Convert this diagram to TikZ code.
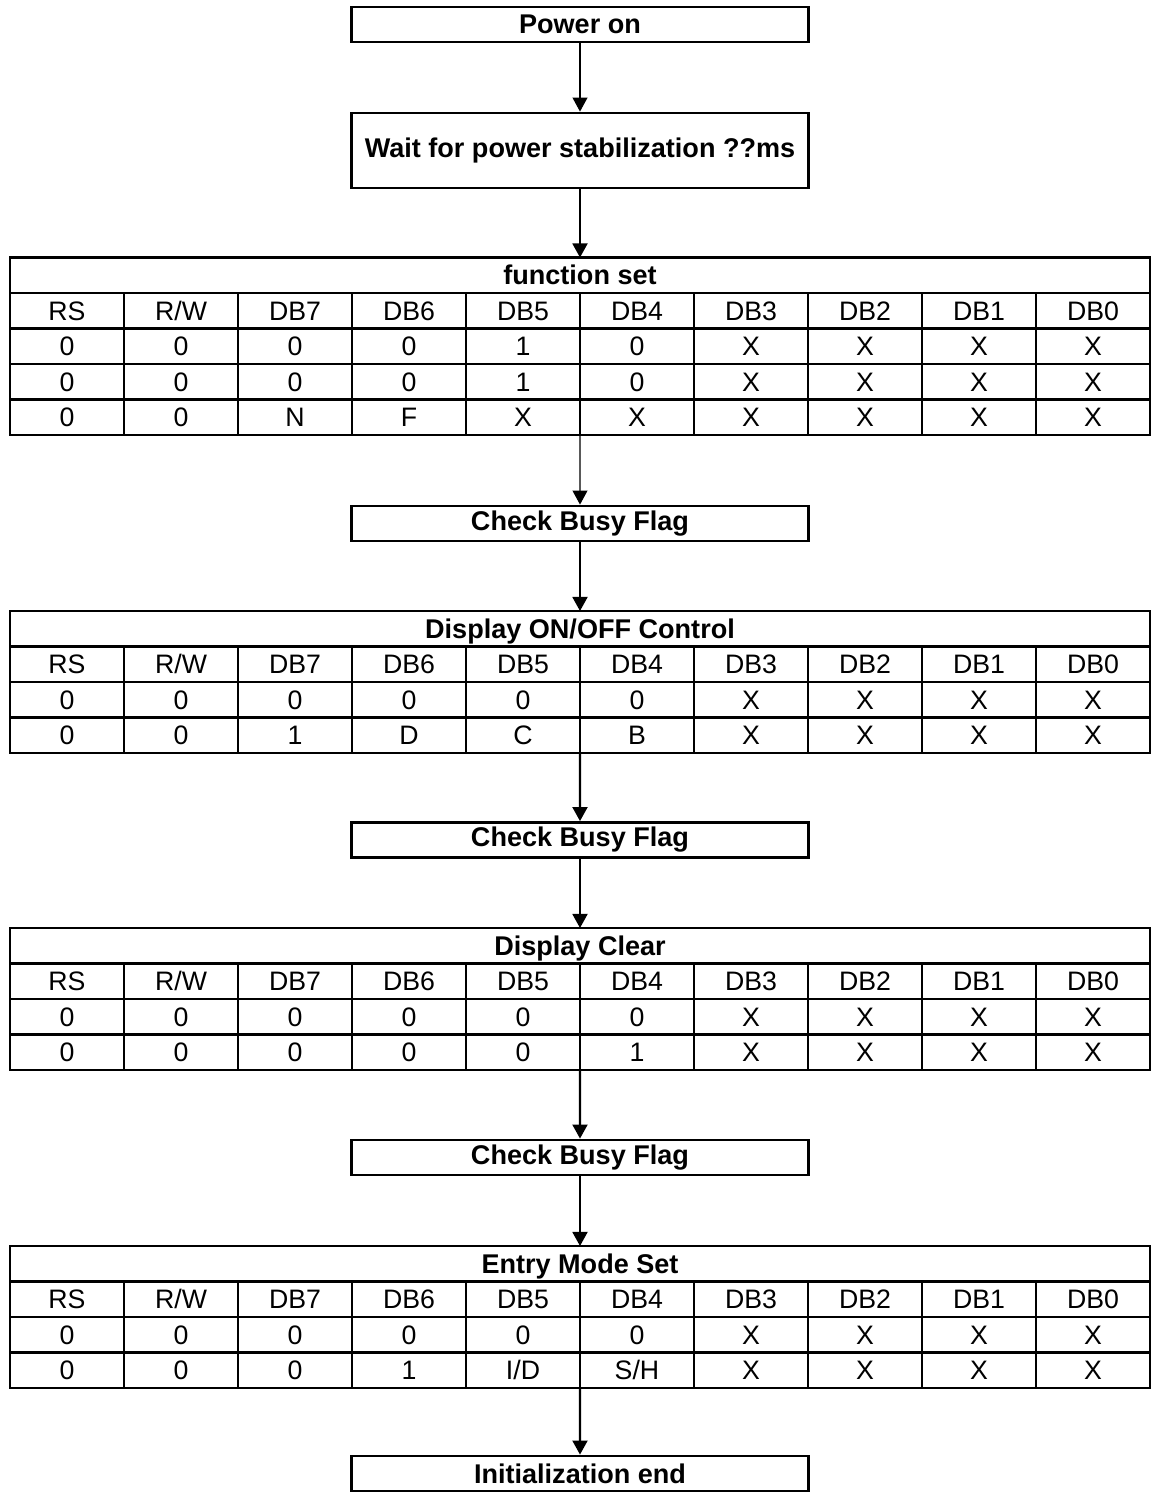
\documentclass[tikz,border=0pt]{standalone}
\usepackage{fontspec}
\setmainfont{Liberation Sans}
\usetikzlibrary{arrows.meta}

\tikzset{
  stepbox/.style={draw, line width=1.6pt, minimum width=9.14cm, minimum height=0.7cm,
    inner sep=0pt, font=\fontsize{15.4}{18}\selectfont\bfseries},
  cell/.style={draw, line width=1.5pt, minimum width=2.28cm, minimum height=0.71cm,
    inner sep=0pt, outer sep=0pt, text height=10.9pt, text depth=0pt,
    font=\fontsize{15.2}{18}\selectfont},
  titlecell/.style={cell, minimum width=22.8cm, font=\fontsize{15.4}{18}\selectfont\bfseries},
  flow/.style={line width=1.2pt, -{Triangle[length=8pt,width=8.5pt]}},
  thinflow/.style={flow, line width=0.7pt},
}

\begin{document}
\begin{tikzpicture}[x=0.02cm, y=-0.02cm]
    \useasboundingbox (0,0) rectangle (1153,1492);

    % steps
    \node[stepbox] (pwr)  at (580,24.5) {Power on};
    \node[stepbox, minimum height=1.5cm] (wait) at (580,150.5) {Wait for power stabilization ??ms};
    \node[stepbox] (cbf1) at (580,523.5) {Check Busy Flag};
    \node[stepbox] (cbf2) at (580,840) {Check Busy Flag};
    \node[stepbox] (cbf3) at (580,1157.5) {Check Busy Flag};
    \node[stepbox] (iend) at (580,1473.5) {Initialization end};

    % function set
    \node[titlecell] (fsT) at (580,275.25) {function set};
    \foreach \vals [count=\r] in {{RS,R/W,DB7,DB6,DB5,DB4,DB3,DB2,DB1,DB0},
        {0,0,0,0,1,0,X,X,X,X},{0,0,0,0,1,0,X,X,X,X},{0,0,N,F,X,X,X,X,X,X}}
        \foreach \v [count=\c] in \vals
            \node[cell] (fs-\r-\c) at ({67+114*(\c-1)},{275.25+35.5*\r}) {\v};

    % display on/off control
    \node[titlecell] (dcT) at (580,628.75) {Display ON/OFF Control};
    \foreach \vals [count=\r] in {{RS,R/W,DB7,DB6,DB5,DB4,DB3,DB2,DB1,DB0},
        {0,0,0,0,0,0,X,X,X,X},{0,0,1,D,C,B,X,X,X,X}}
        \foreach \v [count=\c] in \vals
            \node[cell] (dc-\r-\c) at ({67+114*(\c-1)},{628.75+35.5*\r}) {\v};

    % display clear
    \node[titlecell] (clT) at (580,945.75) {Display Clear};
    \foreach \vals [count=\r] in {{RS,R/W,DB7,DB6,DB5,DB4,DB3,DB2,DB1,DB0},
        {0,0,0,0,0,0,X,X,X,X},{0,0,0,0,0,1,X,X,X,X}}
        \foreach \v [count=\c] in \vals
            \node[cell] (cl-\r-\c) at ({67+114*(\c-1)},{945.75+35.5*\r}) {\v};

    % entry mode set
    \node[titlecell] (emT) at (580,1263.75) {Entry Mode Set};
    \foreach \vals [count=\r] in {{RS,R/W,DB7,DB6,DB5,DB4,DB3,DB2,DB1,DB0},
        {0,0,0,0,0,0,X,X,X,X},{0,0,0,1,I/D,S/H,X,X,X,X}}
        \foreach \v [count=\c] in \vals
            \node[cell] (em-\r-\c) at ({67+114*(\c-1)},{1263.75+35.5*\r}) {\v};

    % arrows
    \draw[thinflow] (pwr) -- (wait);
    \draw[flow] (wait) -- (fsT);
    \draw[thinflow] (fs-4-5.south east) -- (cbf1);
    \draw[flow] (cbf1) -- (dcT);
    \draw[flow] (dc-3-5.south east) -- (cbf2);
    \draw[flow] (cbf2) -- (clT);
    \draw[flow] (cl-3-5.south east) -- (cbf3);
    \draw[flow] (cbf3) -- (emT);
    \draw[flow] (em-3-5.south east) -- (iend);
\end{tikzpicture}
\end{document}
